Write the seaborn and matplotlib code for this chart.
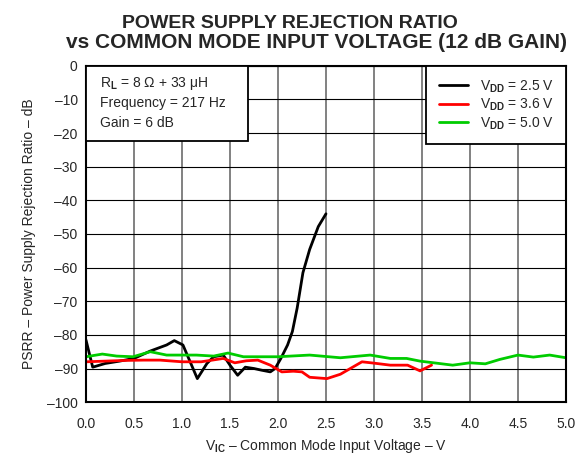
import matplotlib
matplotlib.use("Agg")
import matplotlib.pyplot as plt
from matplotlib.patches import Rectangle
import seaborn as sns
import pandas as pd

## Readings (x in V, PSRR in dB)
vdd25_x = [0.0, 0.07, 0.2, 0.35, 0.5, 0.67, 0.84, 0.92, 1.01, 1.16, 1.26, 1.33, 1.43,
           1.5, 1.58, 1.66, 1.75, 1.83, 1.92, 1.97, 2.03, 2.1, 2.15, 2.2, 2.26, 2.33,
           2.42, 2.5]
vdd25_y = [-81.5, -89.6, -88.5, -87.8, -87.0, -84.8, -83.0, -81.7, -83.0, -93.0, -88.5,
           -86.5, -86.0, -89.0, -92.0, -89.6, -90.0, -90.5, -91.0, -90.0, -87.0, -83.0,
           -79.0, -72.0, -61.5, -54.6, -47.8, -44.0]

vdd36_x = [0.0, 0.2, 0.4, 0.6, 0.77, 1.0, 1.2, 1.43, 1.55, 1.67, 1.79, 1.92, 2.04, 2.16,
           2.25, 2.33, 2.51, 2.65, 2.875, 3.0, 3.17, 3.35, 3.48, 3.6]
vdd36_y = [-88.0, -87.8, -87.6, -87.5, -87.5, -88.0, -88.0, -87.0, -88.3, -87.7, -87.5,
           -89.0, -91.0, -90.8, -91.0, -92.6, -93.0, -91.7, -88.0, -88.4, -89.0, -89.0,
           -90.7, -89.0]

vdd50_x = [0.0, 0.17, 0.32, 0.49, 0.67, 0.84, 1.0, 1.15, 1.33, 1.48, 1.64, 2.0, 2.33,
           2.65, 2.96, 3.17, 3.34, 3.48, 3.82, 4.0, 4.16, 4.31, 4.5, 4.66, 4.83, 5.0]
vdd50_y = [-86.5, -85.7, -86.3, -86.5, -85.0, -86.0, -86.0, -86.0, -86.3, -85.4, -86.5,
           -86.5, -86.0, -86.8, -86.0, -87.0, -87.0, -87.8, -89.0, -88.3, -88.6, -87.3,
           -86.0, -86.6, -86.0, -86.8]

labels = [r"V$_{\mathbf{DD}}$ = 2.5 V", r"V$_{\mathbf{DD}}$ = 3.6 V", r"V$_{\mathbf{DD}}$ = 5.0 V"]
colors = ["black", "#ff0000", "#00cc00"]
conditions = [r"R$_{\mathbf{L}}$ = 8 Ω + 33 μH", "Frequency = 217 Hz", "Gain = 6 dB"]

x_ticks = [0.0, 0.5, 1.0, 1.5, 2.0, 2.5, 3.0, 3.5, 4.0, 4.5, 5.0]
y_ticks = [0, -10, -20, -30, -40, -50, -60, -70, -80, -90, -100]

df = pd.concat([
    pd.DataFrame({"x": vdd25_x, "y": vdd25_y, "s": labels[0]}),
    pd.DataFrame({"x": vdd36_x, "y": vdd36_y, "s": labels[1]}),
    pd.DataFrame({"x": vdd50_x, "y": vdd50_y, "s": labels[2]}),
])

sns.set_style("white")
plt.rcParams["font.family"] = ["Liberation Sans", "DejaVu Sans"]
plt.rcParams["mathtext.fontset"] = "custom"
plt.rcParams["mathtext.rm"] = "Liberation Sans"
plt.rcParams["mathtext.it"] = "Liberation Sans"
plt.rcParams["mathtext.bf"] = "Liberation Sans:bold"

fig = plt.figure(figsize=(5.79, 4.57), dpi=100)
ax = fig.add_axes([0.1485, 0.12, 0.829, 0.736])

sns.lineplot(data=df, x="x", y="y", hue="s", palette=colors, linewidth=2,
             ax=ax, sort=False, estimator=None)

ax.set_xlim(0, 5)
ax.set_ylim(-100, 0)
ax.set_xticks(x_ticks)
ax.set_xticklabels([f"{t:.1f}" for t in x_ticks], fontsize=10)
ax.set_yticks(y_ticks)
ax.set_yticklabels([str(t).replace("-", "–") for t in y_ticks], fontsize=10)
ax.tick_params(axis="x", length=0, pad=11)
ax.tick_params(axis="y", length=0, pad=6)

ax.yaxis.grid(True, color="black", linewidth=0.8)
ax.xaxis.grid(True, color="#777777", linewidth=1.3)
ax.set_axisbelow(True)
for sp in ax.spines.values():
    sp.set_color("black")
    sp.set_linewidth(1.5)

ax.set_xlabel(r"V$_{\mathbf{IC}}$ – Common Mode Input Voltage – V", fontsize=10, labelpad=4)
ax.set_ylabel("PSRR – Power Supply Rejection Ratio – dB", fontsize=10, labelpad=8)

# conditions box, flush with the top-left corner
ax.add_patch(Rectangle((0, 0.777), 0.3375, 0.223, transform=ax.transAxes,
                       facecolor="white", edgecolor="black", linewidth=1.3, zorder=4))
for txt, yy in zip(conditions, [0.946, 0.890, 0.830]):
    ax.text(0.029, yy, txt, transform=ax.transAxes, va="center", ha="left",
            fontsize=10, zorder=5)

leg = ax.legend(loc="upper right", fontsize=10, frameon=True, fancybox=False,
                borderaxespad=0, handlelength=2.1, labelspacing=0.15,
                borderpad=0.9, handletextpad=0.85)
leg.get_frame().set_edgecolor("black")
leg.get_frame().set_linewidth(1.3)
leg.get_frame().set_alpha(1)
for line in leg.get_lines():
    line.set_linewidth(2)

# title; the second line runs off the right edge as in the original
fig.text(0.5, 1 - 28.3 / 457, "POWER SUPPLY REJECTION RATIO", ha="center",
         va="baseline", fontsize=14, fontweight="bold")
fig.text(66 / 579, 1 - 48.5 / 457, "vs COMMON MODE INPUT VOLTAGE (12 dB GAIN)", ha="left",
         va="baseline", fontsize=15, fontweight="bold")

fig.savefig("out.png", dpi=100)
